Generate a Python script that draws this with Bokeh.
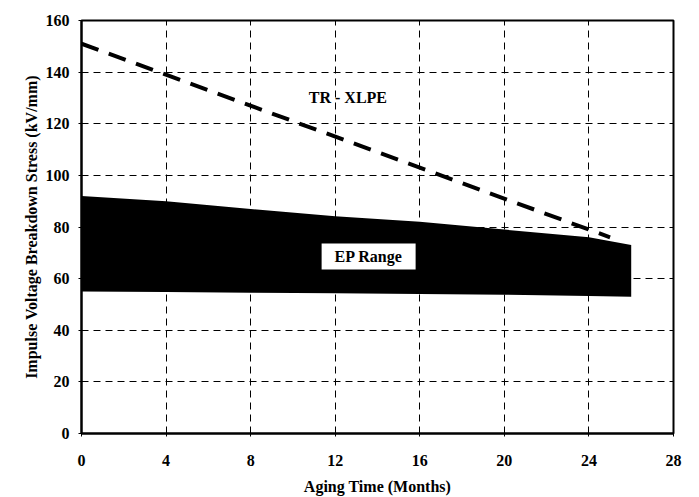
from bokeh.plotting import figure
from bokeh.models import Range1d, FixedTicker, Label
from bokeh.embed import file_html
from bokeh.resources import INLINE

# Data
months = [0, 4, 8, 12, 16, 20, 24, 26]
ep_upper = [92, 90, 87, 84.2, 82, 79, 76, 73]
ep_lower = [55, 54.8, 54.5, 54.3, 54, 53.8, 53.3, 53]
xlpe_months = [0, 25]
xlpe_stress = [151, 76]
x_ticks = [0, 4, 8, 12, 16, 20, 24, 28]
y_ticks = [0, 20, 40, 60, 80, 100, 120, 140, 160]

FONT = "Liberation Serif"

p = figure(width=691, height=497, output_backend="svg", toolbar_location=None,
           x_range=Range1d(0, 28), y_range=Range1d(0, 160),
           min_border_left=81, min_border_right=18, min_border_top=20, min_border_bottom=60)

p.outline_line_color = "black"
p.outline_line_width = 2
p.background_fill_color = "white"
p.border_fill_color = "white"

for g in (p.xgrid, p.ygrid):
    g.grid_line_color = "black"
    g.grid_line_dash = "7 5"
    g.grid_line_width = 1
p.xgrid.ticker = FixedTicker(ticks=x_ticks)
p.ygrid.ticker = FixedTicker(ticks=y_ticks)

p.xaxis.ticker = FixedTicker(ticks=x_ticks)
p.yaxis.ticker = FixedTicker(ticks=y_ticks)

for ax in (p.xaxis, p.yaxis):
    ax.axis_line_color = "black"
    ax.axis_line_width = 2
    ax.major_tick_line_color = "black"
    ax.major_tick_in = 0
    ax.major_tick_out = 3
    ax.minor_tick_line_color = None
    ax.major_label_text_font = FONT
    ax.major_label_text_font_style = "bold"
    ax.major_label_text_font_size = "16px"
    ax.major_label_text_color = "black"
    ax.axis_label_text_font = FONT
    ax.axis_label_text_font_style = "bold"
    ax.axis_label_text_font_size = "16px"
    ax.axis_label_text_color = "black"

p.xaxis.axis_label = "Aging Time (Months)"
p.yaxis.axis_label = "Impulse Voltage Breakdown Stress (kV/mm)"
p.xaxis.major_label_standoff = 18
p.xaxis.axis_label_standoff = 9
p.yaxis.major_label_standoff = 9
p.yaxis.axis_label_standoff = 3

# EP range band
p.varea(x=months, y1=ep_lower, y2=ep_upper, fill_color="black")

# TR-XLPE dashed line
p.line(xlpe_months, xlpe_stress, line_color="black", line_width=4, line_dash="18 11")

# Labels
p.add_layout(Label(x=12.6, y=130, text="TR - XLPE", text_font=FONT, text_font_style="bold",
                   text_font_size="16px", text_align="center", text_baseline="middle",
                   text_color="black"))
p.rect(x=[13.58], y=[68.6], width=94, height=26, width_units="screen", height_units="screen",
       fill_color="white", line_color=None)
p.add_layout(Label(x=13.58, y=68.6, text="EP Range", text_font=FONT, text_font_style="bold",
                   text_font_size="16px", text_align="center", text_baseline="middle",
                   text_color="black"))

open("out.html", "w").write(file_html(p, INLINE))
